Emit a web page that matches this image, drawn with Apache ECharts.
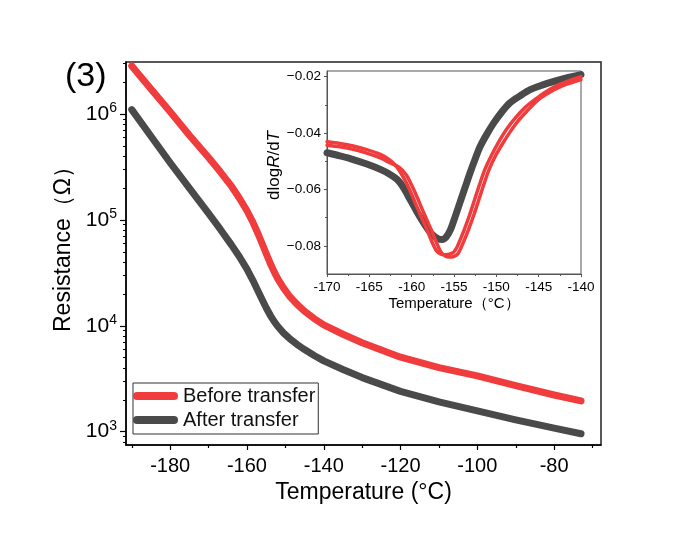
<!DOCTYPE html>
<html><head><meta charset="utf-8">
<script src="https://cdn.jsdelivr.net/npm/echarts@6/dist/echarts.min.js"></script>
<style>html,body{margin:0;padding:0;background:#fff}#c{width:700px;height:536px}</style>
</head><body><div id="c"></div>
<script>
// ---- main chart data ----
const temps = [-190, -185, -180, -175, -170, -167, -164, -162, -160, -158.5, -157, -156, -155, -154, -153, -152, -150.5, -149, -147, -145, -142.5, -140, -135, -130, -120, -110, -100, -90, -80, -73];
const beforeR = [2.84e6, 1.72e6, 1.05e6, 6.31e5, 3.89e5, 2.86e5, 2.07e5, 1.61e5, 1.22e5, 9.59e4, 7.24e4, 5.92e4, 4.81e4, 3.94e4, 3.28e4, 2.79e4, 2.28e4, 1.92e4, 1.60e4, 1.37e4, 1.17e4, 1.02e4, 8.32e3, 6.92e3, 5.05e3, 4.03e3, 3.36e3, 2.72e3, 2.22e3, 1.95e3];
const afterR = [1.10e6, 6.17e5, 3.47e5, 2.00e5, 1.15e5, 8.22e4, 5.78e4, 4.51e4, 3.43e4, 2.70e4, 2.08e4, 1.75e4, 1.48e4, 1.27e4, 1.11e4, 9.89e3, 8.57e3, 7.64e3, 6.68e3, 5.96e3, 5.24e3, 4.66e3, 3.86e3, 3.24e3, 2.40e3, 1.91e3, 1.57e3, 1.29e3, 1.08e3, 955];
const xMajor = [-180, -160, -140, -120, -100, -80];
const xMinor = [-190, -170, -150, -130, -110, -90, -70];
const yMajor = [1e3, 1e4, 1e5, 1e6];
const yMinor = [800, 900, 2e3, 3e3, 4e3, 5e3, 6e3, 7e3, 8e3, 9e3, 2e4, 3e4, 4e4, 5e4, 6e4, 7e4, 8e4, 9e4, 2e5, 3e5, 4e5, 5e5, 6e5, 7e5, 8e5, 9e5, 2e6, 3e6];

// ---- inset data ----
const insetBeforeA_T = [-170, -168.5, -166.9, -165.3, -163.7, -162.6, -161.9, -161.15, -160.45, -159.85, -159.25, -158.65, -158.05, -157.55, -157.05, -156.55, -156.05, -155.55, -155.05, -154.65, -154.15, -153.75, -153.15, -152.55, -151.95, -151.35, -150.55, -149.75, -148.85, -147.8, -146.55, -145.2, -144.0, -142.8, -141.4, -140.0];
const insetBeforeA_V = [-0.0431, -0.0437, -0.0446, -0.0459, -0.0476, -0.0495, -0.0515, -0.0548, -0.0588, -0.0628, -0.0671, -0.0712, -0.0753, -0.0790, -0.0818, -0.0830, -0.0832, -0.0830, -0.0823, -0.0805, -0.0770, -0.0740, -0.0690, -0.0635, -0.0580, -0.0529, -0.0478, -0.0433, -0.0389, -0.0348, -0.0308, -0.0276, -0.0251, -0.0231, -0.0214, -0.0200];
const insetBeforeB_T = [-170, -168.5, -166.9, -165.3, -163.7, -162.6, -161.5, -160.65, -159.95, -159.35, -158.75, -158.15, -157.55, -157.05, -156.55, -156.05, -155.55, -155.05, -154.55, -154.15, -153.65, -153.25, -152.65, -152.05, -151.45, -150.85, -150.05, -149.25, -148.35, -147.4, -146.25, -145.2, -144.0, -142.8, -141.4, -140.0];
const insetBeforeB_V = [-0.0443, -0.0449, -0.0458, -0.0471, -0.0488, -0.0505, -0.0521, -0.0548, -0.0588, -0.0628, -0.0671, -0.0712, -0.0753, -0.0790, -0.0822, -0.0836, -0.0840, -0.0838, -0.0829, -0.0805, -0.0770, -0.0740, -0.0690, -0.0635, -0.0580, -0.0529, -0.0478, -0.0437, -0.0395, -0.0356, -0.0318, -0.0286, -0.0261, -0.0241, -0.0224, -0.0210];
const insetAfter_T = [-170, -168.5, -166.9, -165.3, -163.7, -162.6, -161.7, -160.9, -160.2, -159.4, -158.6, -158.0, -157.4, -156.9, -156.4, -155.9, -155.4, -154.9, -154.3, -153.7, -153.1, -152.5, -151.9, -151.1, -150.3, -149.4, -148.4, -147.2, -146.0, -144.6, -143.2, -141.6, -140.0];
const insetAfter_V = [-0.0470, -0.0481, -0.0494, -0.0510, -0.0529, -0.0546, -0.0565, -0.0597, -0.0635, -0.0678, -0.0718, -0.0745, -0.0765, -0.0775, -0.0778, -0.0768, -0.0742, -0.0700, -0.0647, -0.0594, -0.0541, -0.0492, -0.0447, -0.0403, -0.0364, -0.0327, -0.0293, -0.0268, -0.0246, -0.0230, -0.0217, -0.0204, -0.0193];
const insetYMajor = [-0.08, -0.06, -0.04, -0.02];
const insetYMinor = [-0.07, -0.05, -0.03];

const FONT = 'Liberation Sans, Arial, sans-serif';
const RED = '#f03c3c';
const GRAY = '#4a4a4a';
const CAPSULE = 'path://M4,0 L41,0 A4,4 0 0 1 41,8 L4,8 A4,4 0 0 1 4,0 Z';
const zip = (a, b) => a.map((v, i) => [v, b[i]]);

const chart = echarts.init(document.getElementById('c'), null, {renderer: 'canvas'});
chart.setOption({
  animation: false,
  backgroundColor: '#fff',
  graphic: [{type: 'text', left: 65, top: 60, style: {text: '(3)', fontSize: 34, fontFamily: FONT, fill: '#000'}}],
  legend: {
    data: [{name: 'Before transfer', icon: CAPSULE}, {name: 'After transfer', icon: CAPSULE}],
    orient: 'vertical', left: 133, top: 383,
    itemWidth: 45, itemHeight: 8, itemGap: 4, padding: [3, 3, 4, 0],
    borderColor: '#333', borderWidth: 1, borderRadius: 0,
    textStyle: {fontSize: 20, color: '#111', fontFamily: FONT}
  },
  grid: [
    {left: 126, right: 99, top: 62, bottom: 91, show: true, borderColor: '#222', borderWidth: 1.5, backgroundColor: 'transparent'},
    {left: 327, right: 119, top: 71, bottom: 262, show: true, borderColor: '#555', borderWidth: 1, backgroundColor: '#fff'}
  ],
  xAxis: [
    {gridIndex: 0, type: 'value', min: -191.5, max: -67.8, position: 'bottom',
     axisLine: {onZero: false, lineStyle: {color: '#000', width: 1.5}},
     axisTick: {customValues: xMajor, length: 5, lineStyle: {color: '#000', width: 1.2}},
     axisLabel: {customValues: xMajor, fontSize: 20, color: '#000', fontFamily: FONT, margin: 11},
     splitLine: {show: false},
     name: 'Temperature (°C)', nameLocation: 'middle', nameGap: 35,
     nameTextStyle: {fontSize: 23, color: '#000', fontFamily: FONT}},
    {gridIndex: 0, type: 'value', min: -191.5, max: -67.8, position: 'bottom',
     axisLine: {show: false, onZero: false},
     axisTick: {customValues: xMinor, length: 3, lineStyle: {color: '#000', width: 1.2}},
     axisLabel: {show: false}, splitLine: {show: false}},
    {gridIndex: 1, type: 'value', min: -170, max: -140, interval: 5, position: 'bottom',
     axisLine: {onZero: false, lineStyle: {color: '#555', width: 1}},
     axisTick: {length: 3, lineStyle: {color: '#555'}},
     minorTick: {show: true, splitNumber: 2, length: 2, lineStyle: {color: '#555'}},
     axisLabel: {fontSize: 13.5, color: '#000', fontFamily: FONT, margin: 6},
     splitLine: {show: false},
     name: 'Temperature（°C）', nameLocation: 'middle', nameGap: 22,
     nameTextStyle: {fontSize: 15, color: '#000', fontFamily: FONT}}
  ],
  yAxis: [
    {gridIndex: 0, type: 'log', logBase: 10, min: 748, max: 3.1e6, position: 'left',
     axisLine: {onZero: false, lineStyle: {color: '#000', width: 1.5}},
     axisTick: {customValues: yMajor, length: 6, lineStyle: {color: '#000', width: 1.2}},
     axisLabel: {customValues: yMajor, margin: 9, color: '#000',
       formatter: v => '{b|10}{s|' + Math.round(Math.log10(v)) + '}',
       rich: {b: {fontSize: 21, fontFamily: FONT, color: '#000'},
              s: {fontSize: 14, fontFamily: FONT, color: '#000', padding: [0, 0, 11, 0]}}},
     splitLine: {show: false},
     name: 'Resistance（Ω）', nameLocation: 'middle', nameGap: 40,
     nameTextStyle: {fontSize: 23, color: '#000', fontFamily: FONT, padding: [0, 0, 0, 20]}},
    {gridIndex: 0, type: 'log', logBase: 10, min: 748, max: 3.1e6, position: 'left',
     axisLine: {show: false, onZero: false},
     axisTick: {customValues: yMinor, length: 3, lineStyle: {color: '#000', width: 1}},
     axisLabel: {show: false}, splitLine: {show: false}},
    {gridIndex: 1, type: 'value', min: -0.09, max: -0.018, position: 'left',
     axisLine: {onZero: false, lineStyle: {color: '#555', width: 1}},
     axisTick: {customValues: insetYMajor, length: 3, lineStyle: {color: '#555'}},
     axisLabel: {customValues: insetYMajor, fontSize: 13.5, color: '#000', fontFamily: FONT, margin: 6,
       formatter: v => v.toFixed(2).replace('-', '−')},
     splitLine: {show: false},
     name: '{n|dlog}{i|R}{n|/d}{i|T}', nameLocation: 'middle', nameGap: 36,
     nameTextStyle: {fontSize: 17, color: '#000', fontFamily: FONT, padding: [0, 0, 0, 14],
       rich: {n: {fontSize: 17, fontFamily: FONT, color: '#000'},
              i: {fontSize: 17, fontFamily: FONT, color: '#000', fontStyle: 'italic'}}}},
    {gridIndex: 1, type: 'value', min: -0.09, max: -0.018, position: 'left',
     axisLine: {show: false, onZero: false},
     axisTick: {customValues: insetYMinor, length: 2, lineStyle: {color: '#555'}},
     axisLabel: {show: false}, splitLine: {show: false}}
  ],
  series: [
    {name: 'Before transfer', type: 'line', xAxisIndex: 0, yAxisIndex: 0, data: zip(temps, beforeR),
     symbol: 'none', smooth: false, color: RED,
     lineStyle: {color: RED, width: 7, cap: 'round', join: 'round'}},
    {name: 'After transfer', type: 'line', xAxisIndex: 0, yAxisIndex: 0, data: zip(temps, afterR),
     symbol: 'none', smooth: false, color: GRAY,
     lineStyle: {color: GRAY, width: 7, cap: 'round', join: 'round'}},
    {name: 'After (inset)', type: 'line', xAxisIndex: 2, yAxisIndex: 2, data: zip(insetAfter_T, insetAfter_V),
     symbol: 'none', smooth: 0.3, color: GRAY, lineStyle: {color: GRAY, width: 7, cap: 'round', join: 'round'}},
    {name: 'Before (inset A)', type: 'line', xAxisIndex: 2, yAxisIndex: 2, data: zip(insetBeforeA_T, insetBeforeA_V),
     symbol: 'none', smooth: 0.3, color: RED, lineStyle: {color: RED, width: 3.5, cap: 'round', join: 'round'}},
    {name: 'Before (inset B)', type: 'line', xAxisIndex: 2, yAxisIndex: 2, data: zip(insetBeforeB_T, insetBeforeB_V),
     symbol: 'none', smooth: 0.3, color: RED, lineStyle: {color: RED, width: 3.5, cap: 'round', join: 'round'}}
  ]
});
</script>
</body></html>
